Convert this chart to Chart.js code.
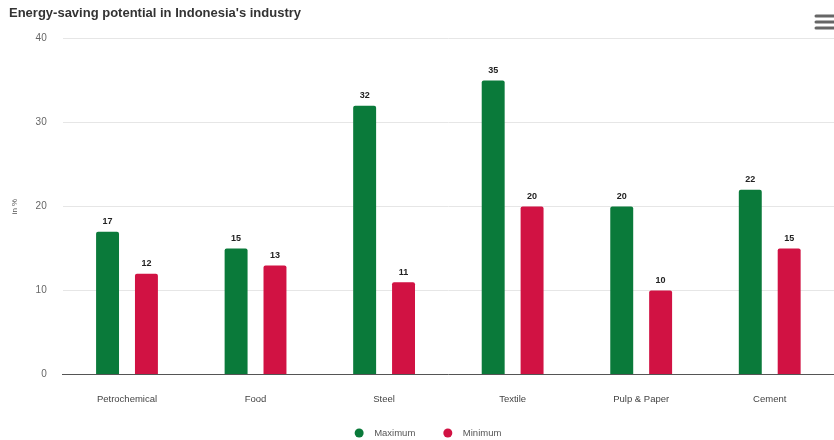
<!DOCTYPE html>
<html>
<head>
<meta charset="utf-8">
<script src="https://cdn.jsdelivr.net/npm/chart.js@4/dist/chart.umd.min.js"></script>
<style>
  html, body { margin: 0; padding: 0; background: #fff; }
  #wrap { width: 834px; height: 440px; }
</style>
</head>
<body>
<div id="wrap"><canvas id="chart"></canvas></div>
<script>
// industries and savings range (%)
var industries = ['Petrochemical', 'Food', 'Steel', 'Textile', 'Pulp & Paper', 'Cement'];
var maximum = [17, 15, 32, 35, 20, 22];
var minimum = [12, 13, 11, 20, 10, 15];
var yTicks = [0, 10, 20, 30, 40];

var font = 'Arial, "Liberation Sans", sans-serif';

// numbers printed above each bar
var valueLabels = {
  id: 'valueLabels',
  afterDatasetsDraw: function (chart) {
    var ctx = chart.ctx;
    ctx.save();
    ctx.font = 'bold 9px ' + font;
    ctx.fillStyle = '#222';
    ctx.textAlign = 'center';
    ctx.textBaseline = 'middle';
    chart.data.datasets.forEach(function (ds, i) {
      chart.getDatasetMeta(i).data.forEach(function (bar, j) {
        ctx.fillText(ds.data[j], bar.x, bar.y - 10);
      });
    });
    ctx.restore();
  }
};

// legend row under the chart: dot, gap, series name
var bottomLegend = {
  id: 'bottomLegend',
  afterDraw: function (chart) {
    var ctx = chart.ctx;
    var y = 433, r = 4.5, gap = 10.5, itemGap = 28, center = 428;
    ctx.save();
    ctx.font = '9.5px ' + font;
    ctx.textBaseline = 'middle';
    var items = chart.data.datasets.map(function (ds) {
      return { text: ds.label, color: ds.backgroundColor, w: 2 * r + gap + ctx.measureText(ds.label).width };
    });
    var total = items.reduce(function (s, it) { return s + it.w; }, 0) + itemGap * (items.length - 1);
    var x = center - total / 2;
    items.forEach(function (it) {
      ctx.fillStyle = it.color;
      ctx.beginPath();
      ctx.arc(x + r, y, r, 0, Math.PI * 2);
      ctx.fill();
      ctx.fillStyle = '#555';
      ctx.textAlign = 'left';
      ctx.fillText(it.text, x + 2 * r + gap, y);
      x += it.w + itemGap;
    });
    ctx.restore();
  }
};

// menu icon in the top right corner
var menuIcon = {
  id: 'menuIcon',
  afterDraw: function (chart) {
    var ctx = chart.ctx;
    ctx.save();
    ctx.strokeStyle = '#666';
    ctx.lineWidth = 3;
    ctx.lineCap = 'round';
    [16, 22, 28].forEach(function (y) {
      ctx.beginPath();
      ctx.moveTo(816, y);
      ctx.lineTo(834, y);
      ctx.stroke();
    });
    ctx.restore();
  }
};

new Chart(document.getElementById('chart'), {
  type: 'bar',
  data: {
    labels: industries,
    datasets: [
      { label: 'Maximum', data: maximum, backgroundColor: '#0a7a3a', borderRadius: 2, borderSkipped: 'bottom' },
      { label: 'Minimum', data: minimum, backgroundColor: '#d11243', borderRadius: 2, borderSkipped: 'bottom' }
    ]
  },
  options: {
    responsive: true,
    maintainAspectRatio: false,
    animation: false,
    datasets: { bar: { categoryPercentage: 0.605, barPercentage: 0.59 } },
    layout: { padding: { left: 9, right: 0, top: 0, bottom: 24 } },
    plugins: {
      title: {
        display: true,
        text: "Energy-saving potential in Indonesia's industry",
        align: 'start',
        color: '#333',
        font: { family: font, size: 13, weight: 'bold' },
        padding: { top: 6, bottom: 17 }
      },
      legend: { display: false },
      tooltip: { enabled: false }
    },
    scales: {
      x: {
        grid: { display: false },
        border: { color: '#555', width: 1 },
        ticks: { color: '#444', font: { family: font, size: 9.5 }, padding: 11 }
      },
      y: {
        min: 0,
        max: 40,
        afterBuildTicks: function (axis) {
          axis.ticks = yTicks.map(function (v) { return { value: v }; });
        },
        grid: { color: '#e6e6e6', drawTicks: false },
        border: { display: false },
        title: { display: true, text: 'in %', color: '#555', font: { family: font, size: 8 }, padding: { top: 1, bottom: 0 } },
        ticks: { color: '#666', font: { family: font, size: 10 }, padding: 16 }
      }
    }
  },
  plugins: [valueLabels, bottomLegend, menuIcon]
});
</script>
</body>
</html>
